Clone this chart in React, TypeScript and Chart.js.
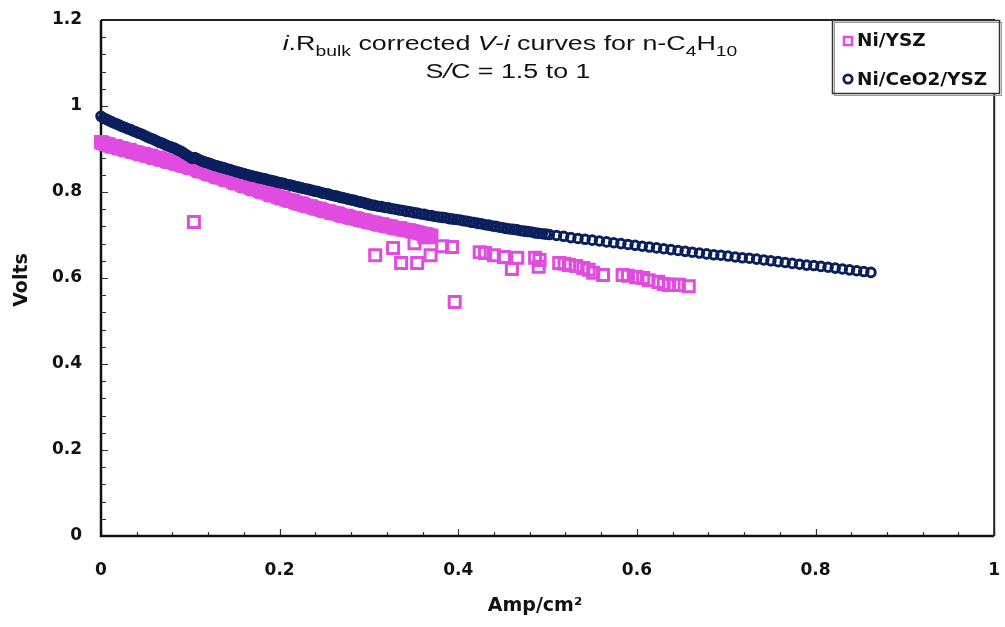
import React, { useEffect, useRef } from "react";
import { Chart, registerables } from "chart.js";

Chart.register(...registerables);

const seriesNames = ["Ni/YSZ", "Ni/CeO2/YSZ"];
const xTickValues = [0, 0.2, 0.4, 0.6, 0.8, 1];
const yTickValues = [0, 0.2, 0.4, 0.6, 0.8, 1, 1.2];
const xAxisTitle = "Amp/cm²";
const yAxisTitle = "Volts";

// Ni/YSZ (pink squares)
const yszX = [
  0.000, 0.004, 0.008, 0.012, 0.016, 0.020, 0.024, 0.028, 0.032, 0.036,
  0.040, 0.044, 0.048, 0.052, 0.056, 0.060, 0.064, 0.068, 0.072, 0.076,
  0.080, 0.084, 0.088, 0.092, 0.096, 0.100, 0.105, 0.110, 0.115, 0.120,
  0.125, 0.130, 0.135, 0.140, 0.145, 0.150, 0.155, 0.160, 0.165, 0.170,
  0.175, 0.180, 0.185, 0.190, 0.195, 0.200, 0.205, 0.210, 0.215, 0.220,
  0.225, 0.230, 0.235, 0.240, 0.245, 0.250, 0.255, 0.260, 0.265, 0.270,
  0.275, 0.280, 0.285, 0.290, 0.295, 0.300, 0.305, 0.310, 0.315, 0.320,
  0.325, 0.330, 0.335, 0.340, 0.345, 0.350, 0.355, 0.360, 0.365, 0.370,
  0.104, 0.307, 0.327, 0.336, 0.354, 0.351, 0.369, 0.382, 0.393, 0.396,
  0.362, 0.366, 0.424, 0.430, 0.440, 0.451, 0.466, 0.460, 0.486, 0.491,
  0.490, 0.513, 0.519, 0.524, 0.532, 0.540, 0.546, 0.551, 0.562, 0.584,
  0.590, 0.599, 0.607, 0.613, 0.624, 0.630, 0.636, 0.641, 0.647, 0.658,
];
const yszY = [
  0.916, 0.912, 0.911, 0.906, 0.907, 0.902, 0.901, 0.897, 0.898, 0.893,
  0.892, 0.888, 0.889, 0.884, 0.884, 0.879, 0.880, 0.875, 0.875, 0.870,
  0.871, 0.866, 0.866, 0.861, 0.861, 0.856, 0.855, 0.849, 0.848, 0.842,
  0.841, 0.835, 0.834, 0.828, 0.828, 0.821, 0.821, 0.814, 0.814, 0.807,
  0.807, 0.800, 0.800, 0.793, 0.793, 0.787, 0.786, 0.780, 0.780, 0.774,
  0.773, 0.768, 0.767, 0.762, 0.761, 0.756, 0.755, 0.751, 0.750, 0.745,
  0.745, 0.740, 0.739, 0.735, 0.734, 0.730, 0.729, 0.725, 0.725, 0.721,
  0.720, 0.716, 0.716, 0.712, 0.711, 0.708, 0.706, 0.703, 0.701, 0.698,
  0.730, 0.653, 0.670, 0.635, 0.635, 0.681, 0.653, 0.674, 0.672, 0.544,
  0.695, 0.695, 0.660, 0.658, 0.653, 0.649, 0.647, 0.621, 0.647, 0.642,
  0.626, 0.635, 0.633, 0.630, 0.628, 0.623, 0.619, 0.612, 0.607, 0.607,
  0.605, 0.602, 0.600, 0.595, 0.591, 0.586, 0.584, 0.584, 0.584, 0.581,
];
// Ni/YSZ, additional readings in the dense low-current band
const yszDenseX = [
  0.002, 0.006, 0.010, 0.014, 0.018, 0.022, 0.026, 0.030, 0.034, 0.038,
  0.042, 0.046, 0.050, 0.054, 0.058, 0.062, 0.066, 0.070, 0.074, 0.078,
  0.082, 0.086, 0.090, 0.094, 0.098, 0.1025, 0.1075, 0.1125, 0.1175, 0.1225,
  0.1275, 0.1325, 0.1375, 0.1425, 0.1475, 0.1525, 0.1575, 0.1625, 0.1675, 0.1725,
  0.1775, 0.1825, 0.1875, 0.1925, 0.1975, 0.2025, 0.2075, 0.2125, 0.2175, 0.2225,
  0.2275, 0.2325, 0.2375, 0.2425, 0.2475, 0.2525, 0.2575, 0.2625, 0.2675, 0.2725,
  0.2775, 0.2825, 0.2875, 0.2925, 0.2975, 0.3025, 0.3075, 0.3125, 0.3175, 0.3225,
  0.3275, 0.3325, 0.3375, 0.3425, 0.3475, 0.3525, 0.3575, 0.3625, 0.3675,
];
const yszDenseY = [
  0.914, 0.911, 0.908, 0.906, 0.904, 0.902, 0.899, 0.897, 0.895, 0.893,
  0.890, 0.888, 0.886, 0.884, 0.881, 0.879, 0.877, 0.875, 0.872, 0.870,
  0.868, 0.866, 0.863, 0.861, 0.858, 0.855, 0.852, 0.848, 0.845, 0.841,
  0.838, 0.834, 0.831, 0.827, 0.824, 0.820, 0.817, 0.813, 0.810, 0.806,
  0.803, 0.799, 0.796, 0.792, 0.789, 0.785, 0.782, 0.779, 0.776, 0.773,
  0.770, 0.767, 0.764, 0.761, 0.758, 0.755, 0.752, 0.750, 0.747, 0.744,
  0.742, 0.739, 0.737, 0.734, 0.732, 0.729, 0.727, 0.724, 0.722, 0.720,
  0.717, 0.715, 0.713, 0.711, 0.709, 0.707, 0.704, 0.702, 0.699,
];

// Ni/CeO2/YSZ (navy circles)
const ceriaX = [
  0.000, 0.003, 0.006, 0.009, 0.012, 0.015, 0.018, 0.021, 0.024, 0.027,
  0.030, 0.033, 0.036, 0.039, 0.042, 0.045, 0.048, 0.051, 0.054, 0.057,
  0.060, 0.063, 0.066, 0.069, 0.072, 0.075, 0.078, 0.081, 0.084, 0.087,
  0.090, 0.093, 0.096, 0.099, 0.102, 0.105, 0.108, 0.112, 0.117, 0.122,
  0.127, 0.132, 0.137, 0.142, 0.147, 0.152, 0.157, 0.162, 0.167, 0.172,
  0.177, 0.182, 0.187, 0.192, 0.197, 0.202, 0.207, 0.212, 0.217, 0.222,
  0.227, 0.232, 0.237, 0.242, 0.247, 0.252, 0.257, 0.262, 0.267, 0.272,
  0.277, 0.282, 0.287, 0.292, 0.297, 0.302, 0.310, 0.318, 0.326, 0.334,
  0.342, 0.350, 0.358, 0.366, 0.374, 0.382, 0.390, 0.398, 0.406, 0.414,
  0.422, 0.430, 0.438, 0.446, 0.454, 0.462, 0.470, 0.478, 0.486, 0.494,
  0.502, 0.510, 0.518, 0.526, 0.534, 0.542, 0.550, 0.558, 0.566, 0.574,
  0.582, 0.590, 0.598, 0.606, 0.614, 0.622, 0.630, 0.638, 0.646, 0.654,
  0.662, 0.670, 0.678, 0.686, 0.694, 0.702, 0.710, 0.718, 0.726, 0.734,
  0.742, 0.750, 0.758, 0.766, 0.774, 0.782, 0.790, 0.798, 0.806, 0.814,
  0.822, 0.830, 0.838, 0.846, 0.854, 0.862,
];
const ceriaY = [
  0.976, 0.972, 0.969, 0.966, 0.963, 0.960, 0.958, 0.955, 0.952, 0.950,
  0.947, 0.945, 0.942, 0.940, 0.937, 0.935, 0.932, 0.929, 0.926, 0.924,
  0.921, 0.918, 0.915, 0.913, 0.910, 0.907, 0.905, 0.903, 0.900, 0.897,
  0.894, 0.890, 0.886, 0.882, 0.878, 0.880, 0.877, 0.873, 0.869, 0.866,
  0.862, 0.859, 0.856, 0.853, 0.850, 0.847, 0.844, 0.841, 0.838, 0.836,
  0.833, 0.831, 0.828, 0.826, 0.823, 0.821, 0.818, 0.816, 0.813, 0.811,
  0.808, 0.806, 0.803, 0.801, 0.798, 0.796, 0.793, 0.791, 0.788, 0.786,
  0.783, 0.781, 0.778, 0.776, 0.773, 0.770, 0.767, 0.764, 0.761, 0.758,
  0.755, 0.752, 0.749, 0.746, 0.743, 0.741, 0.738, 0.736, 0.733, 0.730,
  0.727, 0.724, 0.721, 0.718, 0.715, 0.713, 0.710, 0.708, 0.705, 0.703,
  0.701, 0.699, 0.697, 0.694, 0.692, 0.690, 0.688, 0.686, 0.684, 0.682,
  0.680, 0.678, 0.676, 0.674, 0.672, 0.670, 0.668, 0.666, 0.664, 0.662,
  0.660, 0.658, 0.656, 0.654, 0.653, 0.651, 0.649, 0.647, 0.646, 0.644,
  0.642, 0.640, 0.638, 0.636, 0.634, 0.632, 0.630, 0.629, 0.627, 0.625,
  0.623, 0.621, 0.619, 0.617, 0.615, 0.613,
];
// Ni/CeO2/YSZ, additional readings in the dense mid-current band
const ceriaDenseX = [
  0.1145, 0.1195, 0.1245, 0.1295, 0.1345, 0.1395, 0.1445, 0.1495, 0.1545, 0.1595,
  0.1645, 0.1695, 0.1745, 0.1795, 0.1845, 0.1895, 0.1945, 0.1995, 0.2045, 0.2095,
  0.2145, 0.2195, 0.2245, 0.2295, 0.2345, 0.2395, 0.2445, 0.2495, 0.2545, 0.2595,
  0.2645, 0.2695, 0.2745, 0.2795, 0.2845, 0.2895, 0.2945, 0.2995, 0.306, 0.314,
  0.322, 0.330, 0.338, 0.346, 0.354, 0.362, 0.370, 0.378, 0.386, 0.394,
  0.402, 0.410, 0.418, 0.426, 0.434, 0.442, 0.450, 0.458, 0.466, 0.474,
  0.482, 0.490, 0.498,
];
const ceriaDenseY = [
  0.871, 0.868, 0.864, 0.861, 0.858, 0.855, 0.852, 0.849, 0.846, 0.843,
  0.840, 0.837, 0.835, 0.832, 0.830, 0.827, 0.825, 0.822, 0.820, 0.817,
  0.815, 0.812, 0.810, 0.807, 0.805, 0.802, 0.800, 0.797, 0.795, 0.792,
  0.790, 0.787, 0.785, 0.782, 0.780, 0.777, 0.775, 0.772, 0.769, 0.766,
  0.763, 0.760, 0.757, 0.754, 0.751, 0.748, 0.745, 0.742, 0.740, 0.737,
  0.735, 0.732, 0.729, 0.726, 0.723, 0.720, 0.717, 0.714, 0.712, 0.709,
  0.707, 0.704, 0.702,
];

const PINK = "#e04ce0";
const NAVY = "#0b1f5c";

type Seg = { t: string; it?: boolean; sub?: boolean };

const titleLine1: Seg[] = [
  { t: "i", it: true },
  { t: ".R" },
  { t: "bulk", sub: true },
  { t: " corrected " },
  { t: "V-i", it: true },
  { t: " curves for n-C" },
  { t: "4", sub: true },
  { t: "H" },
  { t: "10", sub: true },
];
const titleLine2: Seg[] = [
  { t: "S" },
  { t: "/", it: true },
  { t: "C = 1.5 to 1" },
];

function drawRich(ctx: CanvasRenderingContext2D, segs: Seg[], cx: number, base: number, size: number, sx: number) {
  const fontOf = (s: Seg) => {
    const sz = s.sub ? size * 0.72 : size;
    return `${s.it ? "italic " : ""}${sz}px "Liberation Sans", Arial, sans-serif`;
  };
  let total = 0;
  const widths = segs.map((s) => {
    ctx.font = fontOf(s);
    const w = ctx.measureText(s.t).width;
    total += w;
    return w;
  });
  ctx.save();
  ctx.translate(cx, base);
  ctx.scale(sx, 1);
  ctx.fillStyle = "#111";
  ctx.textBaseline = "alphabetic";
  ctx.textAlign = "left";
  let x = -total / 2;
  segs.forEach((s, i) => {
    ctx.font = fontOf(s);
    ctx.fillText(s.t, x, s.sub ? size * 0.27 : 0);
    x += widths[i];
  });
  ctx.restore();
}

const framePlugin = {
  id: "frame",
  beforeDatasetsDraw(chart: any) {
    const { ctx, chartArea: a, scales } = chart;
    const xs = scales.x;
    const ys = scales.y;
    ctx.save();
    ctx.strokeStyle = "#333";
    ctx.lineWidth = 1.2;
    ctx.beginPath();
    for (let i = 0; i <= 25; i++) {
      const px = Math.round(xs.getPixelForValue(i * 0.04)) + 0.5;
      const len = i % 5 === 0 ? 7 : 4;
      ctx.moveTo(px, a.bottom);
      ctx.lineTo(px, a.bottom - len);
    }
    for (let i = 0; i <= 30; i++) {
      const py = Math.round(ys.getPixelForValue(i * 0.04)) + 0.5;
      const len = i % 5 === 0 ? 7 : 5;
      ctx.moveTo(a.left, py);
      ctx.lineTo(a.left + len, py);
    }
    ctx.stroke();
    ctx.strokeStyle = "#222";
    ctx.lineWidth = 2;
    ctx.beginPath();
    ctx.moveTo(a.left, a.top);
    ctx.lineTo(a.right, a.top);
    ctx.lineTo(a.right, a.bottom);
    ctx.stroke();
    ctx.strokeStyle = "#111";
    ctx.lineWidth = 2.5;
    ctx.beginPath();
    ctx.moveTo(a.left, a.top);
    ctx.lineTo(a.left, a.bottom);
    ctx.lineTo(a.right, a.bottom);
    ctx.stroke();
    ctx.restore();
  },
  afterDraw(chart: any) {
    const { ctx } = chart;
    ctx.save();
    // title
    drawRich(ctx, titleLine1, 510, 50, 20.5, 1.31);
    drawRich(ctx, titleLine2, 508, 78, 20.5, 1.31);

    // axis titles
    ctx.fillStyle = "#111";
    ctx.font = 'bold 19px "DejaVu Sans", sans-serif';
    ctx.textAlign = "center";
    ctx.textBaseline = "middle";
    ctx.fillText(xAxisTitle, 535, 606);
    ctx.save();
    ctx.translate(22, 280);
    ctx.rotate(-Math.PI / 2);
    ctx.fillText(yAxisTitle, 0, 0);
    ctx.restore();

    // legend
    ctx.fillStyle = "#fff";
    ctx.fillRect(832, 20, 168, 74);
    ctx.strokeStyle = "#999";
    ctx.lineWidth = 1;
    ctx.strokeRect(834.5, 22.5, 167, 73);
    ctx.strokeStyle = "#333";
    ctx.lineWidth = 1.5;
    ctx.strokeRect(832.5, 20.5, 167, 73);

    ctx.lineWidth = 2.5;
    ctx.strokeStyle = PINK;
    ctx.strokeRect(844, 37, 8, 8);
    ctx.strokeStyle = NAVY;
    ctx.lineWidth = 2.8;
    ctx.beginPath();
    ctx.arc(848, 79, 4.2, 0, Math.PI * 2);
    ctx.stroke();

    ctx.fillStyle = "#111";
    ctx.font = 'bold 18.5px "DejaVu Sans", sans-serif';
    ctx.textAlign = "left";
    ctx.textBaseline = "middle";
    ctx.fillText(seriesNames[0], 857, 41);
    ctx.fillText(seriesNames[1], 857, 80);
    ctx.restore();
  },
};

export default function App() {
  const ref = useRef<HTMLCanvasElement | null>(null);

  useEffect(() => {
    if (!ref.current) return;
    const ceriaData = [
      ...ceriaX.map((x, i) => ({ x, y: ceriaY[i] })),
      ...ceriaDenseX.map((x, i) => ({ x, y: ceriaDenseY[i] })),
    ];
    const yszData = [
      ...yszX.map((x, i) => ({ x, y: yszY[i] })),
      ...yszDenseX.map((x, i) => ({ x, y: yszDenseY[i] })),
    ];
    const tickFont = { family: "DejaVu Sans", weight: "bold" as const, size: 17 };
    const chart = new Chart(ref.current, {
      type: "scatter",
      data: {
        datasets: [
          {
            label: seriesNames[1],
            data: ceriaData,
            pointStyle: "circle",
            pointRadius: 4.3,
            pointBorderWidth: 3,
            borderColor: NAVY,
            backgroundColor: "rgba(255,255,255,0)",
            clip: false as any,
          },
          {
            label: seriesNames[0],
            data: yszData,
            pointStyle: "rect",
            pointRadius: 7.8,
            pointBorderWidth: 3,
            borderColor: PINK,
            backgroundColor: "rgba(255,255,255,0)",
            clip: false as any,
          },
        ],
      },
      options: {
        responsive: false,
        animation: false,
        layout: { padding: { top: 20, right: 4, left: 0, bottom: 0 } },
        plugins: {
          legend: { display: false },
          title: { display: false },
          tooltip: { enabled: false },
        },
        scales: {
          x: {
            type: "linear",
            min: 0,
            max: 1,
            grid: { display: false, drawTicks: false },
            border: { display: false },
            afterBuildTicks: (s: any) => {
              s.ticks = xTickValues.map((v) => ({ value: v }));
            },
            afterFit: (s: any) => {
              s.height = 91;
              s.paddingLeft = 0;
              s.paddingRight = 0;
            },
            ticks: {
              font: tickFont,
              color: "#111",
              padding: 24,
              maxRotation: 0,
              callback: (v: any) => String(v),
            },
          },
          y: {
            type: "linear",
            min: 0,
            max: 1.2,
            grid: { display: false, drawTicks: false },
            border: { display: false },
            afterBuildTicks: (s: any) => {
              s.ticks = yTickValues.map((v) => ({ value: v }));
            },
            afterFit: (s: any) => {
              s.width = 101;
              s.paddingTop = 0;
              s.paddingBottom = 0;
            },
            ticks: {
              font: tickFont,
              color: "#111",
              padding: 19,
              callback: (v: any) => String(v),
            },
          },
        },
      },
      plugins: [framePlugin],
    });
    return () => chart.destroy();
  }, []);

  return (
    <div style={{ position: "absolute", left: 0, top: 0, width: 1005, height: 627, background: "#fff" }}>
      <canvas ref={ref} width={1005} height={627} style={{ display: "block" }} />
    </div>
  );
}
